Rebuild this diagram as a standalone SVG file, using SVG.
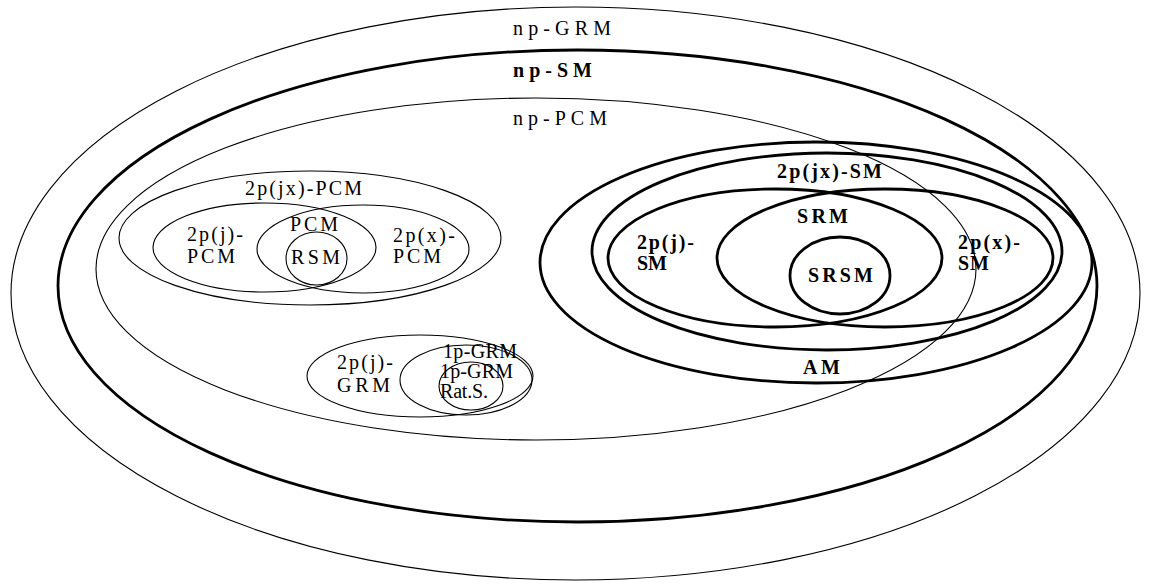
<svg xmlns="http://www.w3.org/2000/svg" width="1150" height="584" viewBox="0 0 1150 584">
  <style>
    .thin { fill: none; stroke: #000; stroke-width: 1.1; }
    .thick { fill: none; stroke: #000; stroke-width: 2.8; }
    .lbl { font-family: "Liberation Serif", "Times New Roman", serif; font-size: 20px; fill: #000; }
    .bold { font-family: "Liberation Serif", "Times New Roman", serif; font-size: 20px; font-weight: bold; fill: #000; }
  </style>
  <rect width="1150" height="584" fill="#fff"/>

  <!-- outer classes -->
  <g id="np-GRM">
    <ellipse class="thin" cx="575.5" cy="293.5" rx="564.5" ry="286.5"/>
    <text class="lbl" x="513" y="35" textLength="98" lengthAdjust="spacing">np-GRM</text>
  </g>
  <g id="np-SM">
    <ellipse class="thick" cx="577.5" cy="286" rx="519.5" ry="236"/>
    <text class="bold" x="513" y="77" textLength="79" lengthAdjust="spacing">np-SM</text>
  </g>
  <g id="np-PCM">
    <ellipse class="thin" cx="536" cy="269" rx="440" ry="171"/>
    <text class="lbl" x="513" y="125" textLength="94" lengthAdjust="spacing">np-PCM</text>
  </g>

  <!-- PCM family: PCM is the overlap of the two 2p ellipses -->
  <g id="2p-jx-PCM">
    <ellipse class="thin" cx="310" cy="238" rx="191" ry="67"/>
    <text class="lbl" x="245" y="195" textLength="117" lengthAdjust="spacing">2p(jx)-PCM</text>
  </g>
  <g id="2p-j-PCM">
    <ellipse class="thin" cx="264.5" cy="247.5" rx="111.5" ry="44.5"/>
    <text class="lbl" x="187" y="241" textLength="56" lengthAdjust="spacing">2p(j)-</text>
    <text class="lbl" x="187" y="263" textLength="48" lengthAdjust="spacing">PCM</text>
  </g>
  <g id="2p-x-PCM">
    <ellipse class="thin" cx="363" cy="249" rx="106" ry="44"/>
    <text class="lbl" x="393" y="242" textLength="62" lengthAdjust="spacing">2p(x)-</text>
    <text class="lbl" x="393" y="263" textLength="48" lengthAdjust="spacing">PCM</text>
  </g>
  <g id="PCM">
    <text class="lbl" x="290" y="231" textLength="48" lengthAdjust="spacing">PCM</text>
  </g>
  <g id="RSM">
    <ellipse class="thin" cx="316.5" cy="258.5" rx="30.5" ry="26.5"/>
    <text class="lbl" x="291" y="264" textLength="49" lengthAdjust="spacing">RSM</text>
  </g>

  <!-- GRM family -->
  <g id="2p-j-GRM">
    <ellipse class="thin" cx="420" cy="376" rx="113" ry="41"/>
    <text class="lbl" x="337" y="369" textLength="56" lengthAdjust="spacing">2p(j)-</text>
    <text class="lbl" x="337" y="392" textLength="53" lengthAdjust="spacing">GRM</text>
  </g>
  <g id="1p-GRM">
    <ellipse class="thin" cx="466" cy="380" rx="66" ry="35"/>
    <text class="lbl" x="443" y="358" textLength="74" lengthAdjust="spacing">1p-GRM</text>
  </g>
  <g id="1p-GRM-RatS">
    <ellipse class="thin" cx="471" cy="386" rx="32" ry="24"/>
    <text class="lbl" x="440" y="378" textLength="73" lengthAdjust="spacing">1p-GRM</text>
    <text class="lbl" x="440" y="398" textLength="48" lengthAdjust="spacing">Rat.S.</text>
  </g>

  <!-- SM family: SRM is the overlap of 2p(j)-SM and 2p(x)-SM -->
  <g id="AM">
    <ellipse class="thick" cx="816" cy="262.5" rx="276" ry="120.5"/>
    <text class="bold" x="803" y="374" textLength="37" lengthAdjust="spacing">AM</text>
  </g>
  <g id="2p-jx-SM">
    <ellipse class="thick" cx="827" cy="251.5" rx="235" ry="98.5"/>
    <text class="bold" x="777" y="178" textLength="105" lengthAdjust="spacing">2p(jx)-SM</text>
  </g>
  <g id="2p-j-SM">
    <ellipse class="thick" cx="775" cy="258" rx="167" ry="69"/>
    <text class="bold" x="637" y="249" textLength="57" lengthAdjust="spacing">2p(j)-</text>
    <text class="bold" x="637" y="270" textLength="30" lengthAdjust="spacing">SM</text>
  </g>
  <g id="2p-x-SM">
    <ellipse class="thick" cx="885" cy="258" rx="168" ry="69"/>
    <text class="bold" x="958" y="249" textLength="62" lengthAdjust="spacing">2p(x)-</text>
    <text class="bold" x="958" y="270" textLength="31" lengthAdjust="spacing">SM</text>
  </g>
  <g id="SRM">
    <text class="bold" x="797" y="223" textLength="51" lengthAdjust="spacing">SRM</text>
  </g>
  <g id="SRSM">
    <ellipse class="thick" cx="840" cy="275.5" rx="50" ry="38.5"/>
    <text class="bold" x="808" y="282" textLength="65" lengthAdjust="spacing">SRSM</text>
  </g>

  <g id="connectors"/>
</svg>
